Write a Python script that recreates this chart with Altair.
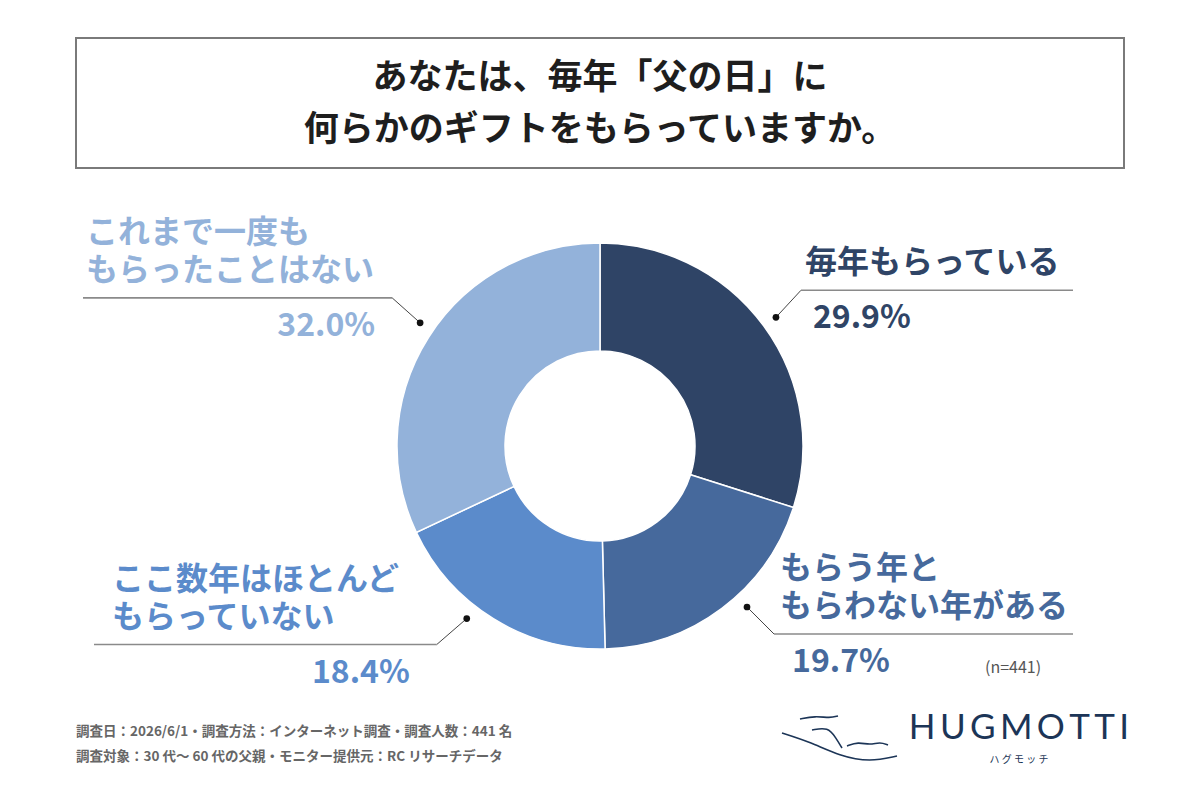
import math
import altair as alt
import pandas as pd

# ---------------- data ----------------
categories = ["毎年もらっている", "もらう年と\nもらわない年がある",
              "ここ数年はほとんど\nもらっていない", "これまで一度も\nもらったことはない"]
values = [29.9, 19.7, 18.4, 32.0]
colors = ["#2F4466", "#46699C", "#5B8BCB", "#93B2DA"]

title_lines = ["あなたは、毎年「父の日」に", "何らかのギフトをもらっていますか。"]
footer_lines = ["調査日：2026/6/1・調査方法：インターネット調査・調査人数：441 名",
                "調査対象：30 代～ 60 代の父親・モニター提供元：RC リサーチデータ"]
n_label = "(n=441)"
brand = "H\u2009U\u2009G\u2009M\u2009O\u2009T\u2009T\u2009I"
brand_kana = "ハ グ モ ッ チ"

# ---------------- layout ----------------
W, H = 1200, 800
CX, CY = 600, 446
R_OUT, R_IN = 203, 95
R_DOT = 218
FONT = "Noto Sans CJK JP"
LINE_H = 38
angle_shift = [0, -5.5, 6, 2]          # degrees, label anchor nudges
elbow_off = [(25, -27), (27, 27), (-30, 26), (-28, -25)]
line_end_x = [1073, 1073, 94, 83]
label_x = [805, 780, 112, 86]
pct_off = [12, 18, -27, -17]

xs = alt.Scale(domain=[0, W], nice=False, zero=False)
ys = alt.Scale(domain=[0, H], nice=False, zero=False, reverse=True)


def X(f):
    return alt.X(f, type="quantitative", scale=xs, axis=None)


def Y(f):
    return alt.Y(f, type="quantitative", scale=ys, axis=None)


# pie table
pie = pd.DataFrame({"cat": categories, "val": values, "idx": range(len(values))})

# label tables, anchors from slice mid angles
rows, segs, lines = [], [], []
cum = 0.0
for i, (c, v) in enumerate(zip(categories, values)):
    mid = (cum + v / 2) / 100.0
    cum += v
    a = math.radians(mid * 360 + angle_shift[i])
    dx_ = CX + R_DOT * math.sin(a)
    dy_ = CY - R_DOT * math.cos(a)
    ex, ey = dx_ + elbow_off[i][0], dy_ + elbow_off[i][1]
    right = ex > CX
    rows.append({
        "dotx": dx_, "doty": dy_,
        "px": ex + pct_off[i], "py": ey + 28,
        "pct": f"{v:.1f}%", "side": "R" if right else "L",
        "color": colors[i],
    })
    parts = c.split("\n")
    k = len(parts)
    for j, p in enumerate(parts):
        lines.append({"t": p, "x": label_x[i], "y": ey - 27 - (k - 1 - j) * LINE_H,
                      "color": colors[i]})
    segs.append({"x": dx_, "y": dy_, "x2": ex, "y2": ey, "kind": "diag"})
    segs.append({"x": ex, "y": ey, "x2": line_end_x[i], "y2": ey, "kind": "hor"})
lab = pd.DataFrame(rows)
seg = pd.DataFrame(segs)
catl = pd.DataFrame(lines)

one = pd.DataFrame({"a": [0]})

# ---------------- layers ----------------
title_box = alt.Chart(one).mark_rect(fillOpacity=0, stroke="#7a7a7a", strokeWidth=2).encode(
    x=alt.value(76), x2=alt.value(1124), y=alt.value(38), y2=alt.value(168))

tdf = pd.DataFrame({"t": title_lines, "x": [600, 600], "y": [78, 130]})
title = alt.Chart(tdf).mark_text(font=FONT, fontSize=35, fontWeight="bold", color="#1e1e1e",
                                 align="center", baseline="middle").encode(
    x=X("x"), y=Y("y"), text="t:N")

donut = alt.Chart(pie).mark_arc(outerRadius=R_OUT, innerRadius=R_IN, stroke="white",
                                strokeWidth=1.5).encode(
    theta=alt.Theta("val:Q", stack=True),
    order=alt.Order("idx:Q"),
    color=alt.Color("cat:N", scale=alt.Scale(domain=categories, range=colors), legend=None),
    x=alt.value(CX), y=alt.value(CY))

diag = alt.Chart(seg[seg["kind"] == "diag"]).mark_rule(color="#444", strokeWidth=1).encode(
    x=X("x"), y=Y("y"), x2="x2:Q", y2="y2:Q")
hor = alt.Chart(seg[seg["kind"] == "hor"]).mark_rule(color="#8a8a8a", strokeWidth=1.6).encode(
    x=X("x"), y=Y("y"), x2="x2:Q", y2="y2:Q")
dots = alt.Chart(lab).mark_circle(size=45, color="#111", opacity=1).encode(
    x=X("dotx"), y=Y("doty"))

cat_text = alt.Chart(catl).mark_text(font=FONT, fontSize=32, fontWeight="bold", align="left",
                                     baseline="middle").encode(
    x=X("x"), y=Y("y"), text="t:N",
    color=alt.Color("color:N", scale=None))

pct_r = alt.Chart(lab[lab["side"] == "R"]).mark_text(font=FONT, fontSize=32, fontWeight="bold",
                                                      align="left", baseline="middle").encode(
    x=X("px"), y=Y("py"), text="pct:N", color=alt.Color("color:N", scale=None))
pct_l = alt.Chart(lab[lab["side"] == "L"]).mark_text(font=FONT, fontSize=32, fontWeight="bold",
                                                      align="right", baseline="middle").encode(
    x=X("px"), y=Y("py"), text="pct:N", color=alt.Color("color:N", scale=None))

ntext = alt.Chart(pd.DataFrame({"t": [n_label], "x": [985], "y": [668]})).mark_text(
    font=FONT, fontSize=16, color="#555", align="left", baseline="middle").encode(
    x=X("x"), y=Y("y"), text="t:N")

fdf = pd.DataFrame({"t": footer_lines, "x": [76, 76], "y": [732, 757]})
footer = alt.Chart(fdf).mark_text(font=FONT, fontSize=13.5, fontWeight="bold", color="#666",
                                  align="left", baseline="middle").encode(
    x=X("x"), y=Y("y"), text="t:N")

brand_t = alt.Chart(pd.DataFrame({"t": [brand], "x": [1019], "y": [728]})).mark_text(
    font="Lato", fontSize=35, color="#1C3557", align="center", baseline="middle").encode(
    x=X("x"), y=Y("y"), text="t:N")
kana_t = alt.Chart(pd.DataFrame({"t": [brand_kana], "x": [1019], "y": [760]})).mark_text(
    font=FONT, fontSize=10, color="#1C3557", align="center", baseline="middle").encode(
    x=X("x"), y=Y("y"), text="t:N")

# logo strokes (decorative)
logo = pd.DataFrame({
    "g": [0] * 5 + [1] * 4 + [2] * 5 + [3] * 4,
    "o": list(range(5)) + list(range(4)) + list(range(5)) + list(range(4)),
    "x": [782, 810, 840, 870, 897,
          800, 815, 830, 838,
          847, 858, 870, 880, 888,
          812, 828, 836, 842],
    "y": [733, 742, 756, 762, 756,
          719, 716, 718, 716,
          746, 742, 745, 742, 745,
          730, 727, 738, 748],
})
logo_l = alt.Chart(logo).mark_line(color="#1C3557", strokeWidth=1.6, interpolate="basis").encode(
    x=X("x"), y=Y("y"), detail="g:N", order="o:Q")

chart = alt.layer(title_box, title, donut, diag, hor, dots, cat_text, pct_r, pct_l, ntext,
                  footer, logo_l, brand_t, kana_t).properties(
    width=W, height=H, padding=0, autosize=alt.AutoSizeParams(type="none"),
    background="white").configure_view(stroke=None)

chart.save("out.html", embed_options={"renderer": "svg", "actions": False})
